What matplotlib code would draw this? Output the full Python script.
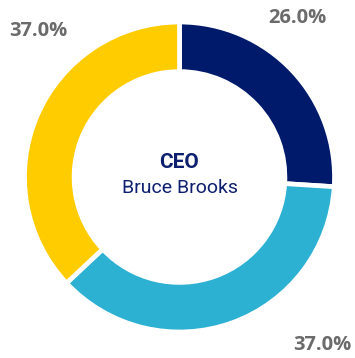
import matplotlib.pyplot as plt

# ownership split
labels = ["Navy", "Blue", "Yellow"]
shares = [26.0, 37.0, 37.0]
colors = ["#001A6B", "#2CB1D3", "#FFCC00"]

title = "CEO"
name = "Bruce Brooks"

W, H = 355, 358
fig = plt.figure(figsize=(W / 100, H / 100), dpi=100)
ax = fig.add_axes([0, 0, 1, 1])

cx, cy, r = 179.5, H - 177, 155
ax.pie(shares, colors=colors, startangle=90, counterclock=False,
       radius=r, center=(cx, cy), frame=True,
       wedgeprops=dict(width=r * 0.32, edgecolor='white', linewidth=3.4))
ax.set_xlim(0, W)
ax.set_ylim(0, H)
ax.set_aspect('equal')
ax.axis('off')

# percentage labels sit out at the corners
label_pos = [(297, H - 18), (322, H - 345), (38, H - 31)]
for v, (x, y) in zip(shares, label_pos):
    ax.text(x, y, f"{v:.1f}%", ha='center', va='center', fontsize=14.5,
            fontweight='bold', color='#6B6B6B', family='Open Sans')

ax.text(cx, H - 162, title, ha='center', va='center', fontsize=15,
        fontweight='bold', color='#0D1F6E', family='Roboto')
ax.text(cx, H - 188, name, ha='center', va='center', fontsize=14,
        color='#0D1F6E', family='Roboto')

fig.savefig('out.png', dpi=100)
